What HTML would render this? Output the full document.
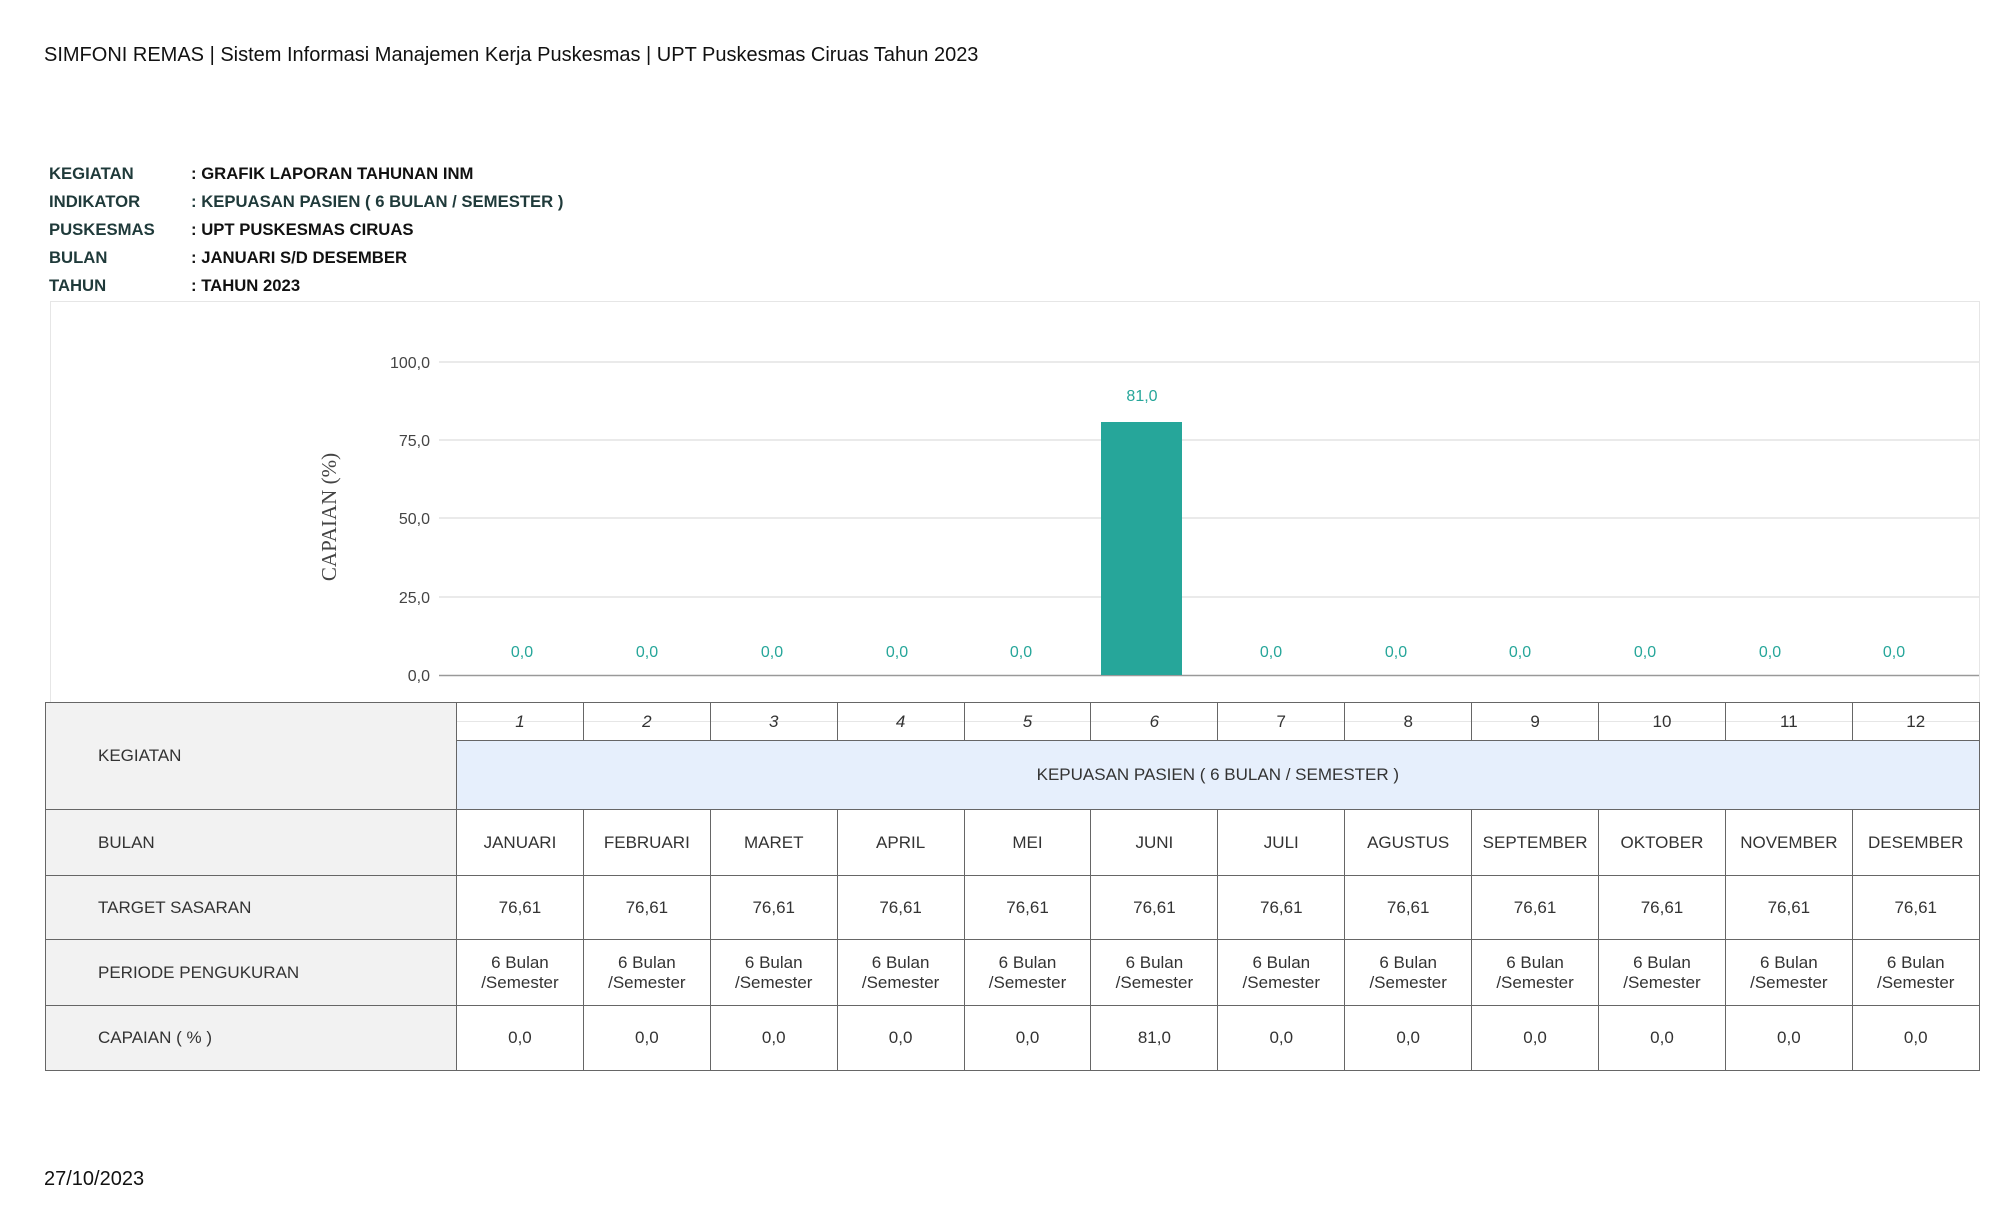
<!DOCTYPE html>
<html><head><meta charset="utf-8"><style>
*{margin:0;padding:0;box-sizing:border-box}
body{width:2016px;height:1224px;background:#fff;position:relative;font-family:"Liberation Sans",Arial,sans-serif;color:#222;overflow:hidden}
.a{position:absolute;white-space:nowrap}
.info{font-size:16.7px;font-weight:bold;color:#1f3a3a}
.val{color:#111}
table{position:absolute;left:45px;top:702px;width:1934px;border-collapse:collapse;font-size:17px;color:#333;table-layout:fixed}
td{border:1.5px solid #666;text-align:center;vertical-align:middle}
td.l{background:#f2f2f2;text-align:left;padding-left:52px}
</style></head><body>
<div class="a" style="left:44px;top:44px;font-size:20px;color:#111">SIMFONI REMAS | Sistem Informasi Manajemen Kerja Puskesmas | UPT Puskesmas Ciruas Tahun 2023</div>
<div class="a info" style="left:49px;top:164px">KEGIATAN</div><div class="a info val" style="left:191px;top:164px">: GRAFIK LAPORAN TAHUNAN INM</div>
<div class="a info" style="left:49px;top:192px">INDIKATOR</div><div class="a info" style="left:191px;top:192px">: KEPUASAN PASIEN ( 6 BULAN / SEMESTER )</div>
<div class="a info" style="left:49px;top:220px">PUSKESMAS</div><div class="a info val" style="left:191px;top:220px">: UPT PUSKESMAS CIRUAS</div>
<div class="a info" style="left:49px;top:248px">BULAN</div><div class="a info val" style="left:191px;top:248px">: JANUARI S/D DESEMBER</div>
<div class="a info" style="left:49px;top:276px">TAHUN</div><div class="a info val" style="left:191px;top:276px">: TAHUN 2023</div>
<svg class="a" style="left:0;top:0" width="2016" height="1224">
<rect x="50.5" y="301.5" width="1929" height="420" fill="none" stroke="#e6e6e6"/>
<g stroke="#e3e3e3" stroke-width="1.5">
<line x1="439" x2="1979" y1="362" y2="362"/><line x1="439" x2="1979" y1="440" y2="440"/><line x1="439" x2="1979" y1="518" y2="518"/><line x1="439" x2="1979" y1="597" y2="597"/></g>
<line x1="439" x2="1979" y1="675.5" y2="675.5" stroke="#999" stroke-width="1.5"/>
<g font-size="16" fill="#444" text-anchor="end" font-family="Liberation Sans">
<text x="430" y="368">100,0</text><text x="430" y="446">75,0</text><text x="430" y="524">50,0</text><text x="430" y="603">25,0</text><text x="430" y="681">0,0</text></g>
<text transform="translate(336,517) rotate(-90)" text-anchor="middle" font-family="Liberation Serif" font-size="21" fill="#444">CAPAIAN (%)</text>
<rect x="1101" y="422" width="81" height="253" fill="#26a69a"/>
<g font-size="16" fill="#26a69a" text-anchor="middle" font-family="Liberation Sans">
<text x="1142" y="401">81,0</text>
<text x="522" y="657">0,0</text><text x="647" y="657">0,0</text><text x="772" y="657">0,0</text><text x="897" y="657">0,0</text><text x="1021" y="657">0,0</text>
<text x="1271" y="657">0,0</text><text x="1396" y="657">0,0</text><text x="1520" y="657">0,0</text><text x="1645" y="657">0,0</text><text x="1770" y="657">0,0</text><text x="1894" y="657">0,0</text></g>
</svg>
<table>
<colgroup><col style="width:411px"><col span="12" style="width:126.9px"></colgroup>
<tr style="height:38px"><td class="l" rowspan="2">KEGIATAN</td><td><i>1</i></td><td><i>2</i></td><td><i>3</i></td><td><i>4</i></td><td><i>5</i></td><td><i>6</i></td><td>7</td><td>8</td><td>9</td><td>10</td><td>11</td><td>12</td></tr>
<tr style="height:69px"><td colspan="12" style="background:#e6effc;border-top:1.5px solid #666">KEPUASAN PASIEN ( 6 BULAN / SEMESTER )</td></tr>
<tr style="height:66px"><td class="l">BULAN</td><td>JANUARI</td><td>FEBRUARI</td><td>MARET</td><td>APRIL</td><td>MEI</td><td>JUNI</td><td>JULI</td><td>AGUSTUS</td><td>SEPTEMBER</td><td>OKTOBER</td><td>NOVEMBER</td><td>DESEMBER</td></tr>
<tr style="height:64px"><td class="l">TARGET SASARAN</td><td>76,61</td><td>76,61</td><td>76,61</td><td>76,61</td><td>76,61</td><td>76,61</td><td>76,61</td><td>76,61</td><td>76,61</td><td>76,61</td><td>76,61</td><td>76,61</td></tr>
<tr style="height:66px"><td class="l">PERIODE PENGUKURAN</td><td>6 Bulan<br>/Semester</td><td>6 Bulan<br>/Semester</td><td>6 Bulan<br>/Semester</td><td>6 Bulan<br>/Semester</td><td>6 Bulan<br>/Semester</td><td>6 Bulan<br>/Semester</td><td>6 Bulan<br>/Semester</td><td>6 Bulan<br>/Semester</td><td>6 Bulan<br>/Semester</td><td>6 Bulan<br>/Semester</td><td>6 Bulan<br>/Semester</td><td>6 Bulan<br>/Semester</td></tr>
<tr style="height:65px"><td class="l">CAPAIAN ( % )</td><td>0,0</td><td>0,0</td><td>0,0</td><td>0,0</td><td>0,0</td><td>81,0</td><td>0,0</td><td>0,0</td><td>0,0</td><td>0,0</td><td>0,0</td><td>0,0</td></tr>
</table>
<div class="a" style="left:44px;top:1168px;font-size:20px;color:#111">27/10/2023</div>
</body></html>
